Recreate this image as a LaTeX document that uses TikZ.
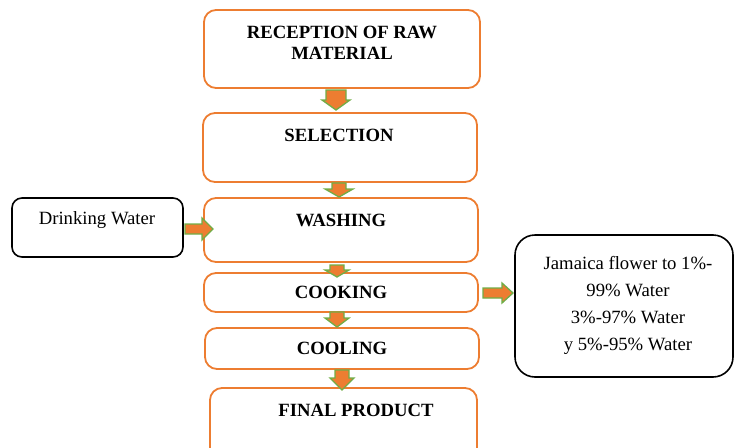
\documentclass[tikz,border=0pt]{standalone}
\usepackage{fontspec}
\setmainfont{Liberation Serif}
\definecolor{boxorange}{HTML}{ED7D31}
\definecolor{arrgreen}{HTML}{70AD47}
\tikzset{
  obox/.style={draw=boxorange, line width=1.8pt, rounded corners=12pt},
  kbox/.style={draw=black, line width=1.6pt},
  ttl/.style={font=\fontsize{18.7}{21}\selectfont\bfseries, inner sep=0pt},
  plain/.style={font=\fontsize{18.7}{27}\selectfont, inner sep=0pt, align=center},
  blk/.style={fill=boxorange, draw=arrgreen, line width=1.3pt, line join=miter}
}
\newcommand\dnarrow[6]{%
  \draw[blk] ({#1-#5},#2) -- ({#1+#5},#2) -- ({#1+#5},#3) -- ({#1+#6},#3) -- (#1,#4) -- ({#1-#6},#3) -- ({#1-#5},#3) -- cycle;}
\newcommand\rtarrow[6]{%
  \draw[blk] (#2,{#1-#5}) -- (#2,{#1+#5}) -- (#3,{#1+#5}) -- (#3,{#1+#6}) -- (#4,#1) -- (#3,{#1-#6}) -- (#3,{#1-#5}) -- cycle;}
\begin{document}
\begin{tikzpicture}[x=1pt,y=-1pt]
\useasboundingbox (0,0) rectangle (738,447);
\begin{scope}
\clip (0,0) rectangle (738,447);
% main boxes
\draw[obox] (204,10) rectangle (480,88);
\draw[obox] (203,113) rectangle (477,182);
\draw[obox] (204,198) rectangle (478,262);
\draw[obox] (204,273) rectangle (478,312);
\draw[obox] (205,328) rectangle (479,369);
\draw[obox] (210,388) rectangle (477,470);
% side boxes
\draw[kbox, rounded corners=10pt] (12,198) rectangle (183,257);
\draw[kbox, rounded corners=20pt] (515,235) rectangle (733,377);
\end{scope}
% texts
\node[ttl] (t1) at (342,32) {RECEPTION OF RAW};
\node[ttl] (t1b) at (342,53) {MATERIAL};
\node[ttl] (t2) at (339,135) {SELECTION};
\node[ttl] (t3) at (341,220) {WASHING};
\node[ttl] (t4) at (341,292) {COOKING};
\node[ttl] (t5) at (342,348) {COOLING};
\node[ttl] (t6) at (356,410) {FINAL PRODUCT};
\node[plain] (dw) at (97,220) {Drinking Water};
\node[plain] (jm) at (628,305) {Jamaica flower to 1\%-\\99\% Water\\3\%-97\% Water\\y 5\%-95\% Water};
% block arrows
\dnarrow{336}{90}{100}{110}{10}{14}
\dnarrow{339}{183}{189}{197}{7}{14}
\dnarrow{337}{265}{270}{277}{7}{12}
\dnarrow{337}{312}{318}{327}{7}{12}
\dnarrow{342}{370}{378}{390}{7}{12}
\rtarrow{229}{185}{202}{213}{5}{11}
\rtarrow{293}{483}{502}{513}{5}{10}
\end{tikzpicture}
\end{document}
